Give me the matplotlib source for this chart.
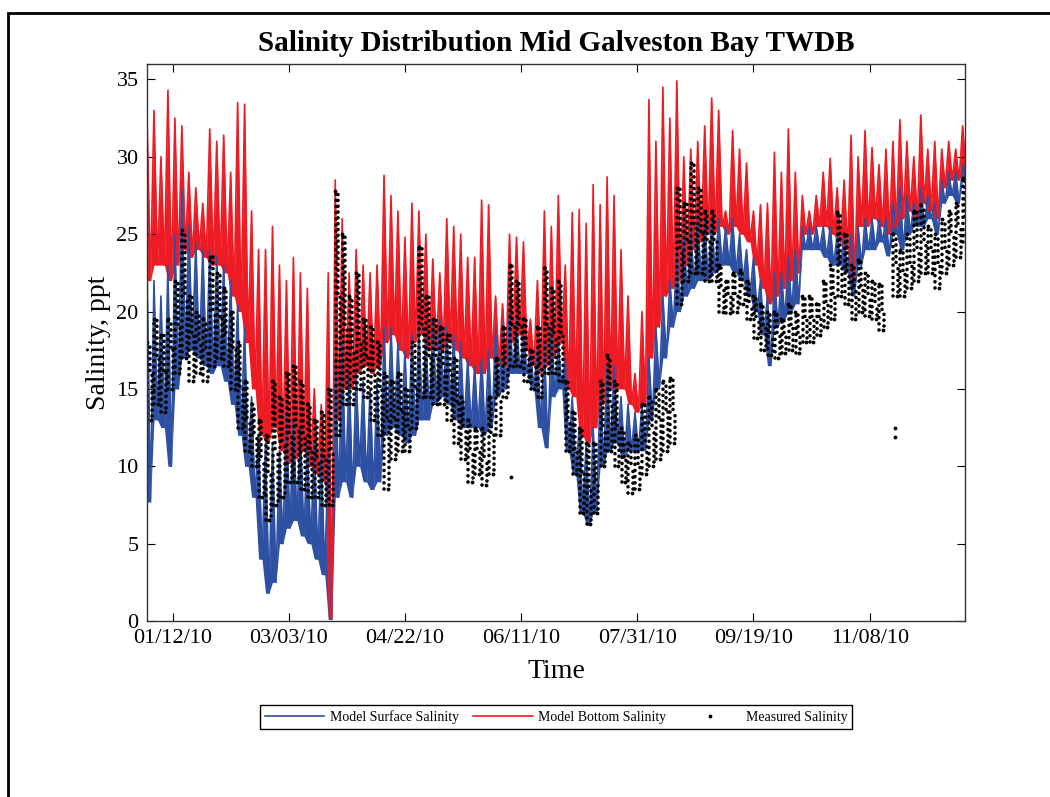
import numpy as np
import matplotlib
matplotlib.use("Agg")
import matplotlib.pyplot as plt
import matplotlib.dates as mdates
from matplotlib.patches import Rectangle
from datetime import datetime

plt.rcParams['font.family'] = ['Liberation Serif', 'DejaVu Serif']

# values read every 3 days from 01/01/10 (daily tidal high / low of each series)
start = datetime(2010, 1, 1)
step_days = 3

bottom_hi = [32.5, 33, 30, 34.3, 32.5, 32, 29, 28, 27, 31.8,
             31, 31.4, 29, 33.5, 33.4, 26.5, 24, 24, 25.5, 23,
             22, 23.5, 22.5, 21.5, 15, 14, 22.5, 28.5, 26, 22.5,
             24, 23, 22.5, 23, 28.8, 27.5, 26.5, 24.8, 27, 26.5,
             25, 23.4, 22.5, 26, 25.5, 25, 23.5, 23.5, 27.2, 26.9,
             21, 20.5, 25, 24.8, 24.5, 19.5, 22, 26.5, 25.5, 27.5,
             23, 26.4, 26.6, 25.7, 28.2, 26.9, 28.7, 27.5, 24, 21,
             16, 20, 33.7, 31, 34.5, 32.5, 34.9, 30, 30.5, 31,
             32, 33.8, 33, 26.5, 31.7, 30.5, 29.6, 26.5, 26.9, 27,
             30.3, 29, 31.8, 29, 27.5, 26.5, 27.5, 29, 29.9, 28,
             28.5, 31.4, 30, 31.7, 30.6, 29.5, 30.5, 31, 32.4, 31,
             30, 32.7, 30.5, 31, 30.5, 31, 30.5, 32]
bottom_lo = [22, 23, 23, 22, 23, 24, 23.5, 24, 23.5, 23,
             23, 22.5, 21, 20, 18, 15, 12, 11.5, 12.5, 11,
             10.2, 10.5, 11, 10, 9.5, 9, 0.2, 13, 15, 15,
             16, 16.5, 16, 16.5, 18, 18.5, 17.5, 17, 18, 18.5,
             17.5, 17.5, 17.5, 18, 17.5, 17, 16.5, 16, 16, 17,
             16.5, 16.5, 18, 18.5, 17.5, 16.5, 16, 16.5, 17, 18,
             15, 14.5, 12, 11.5, 12.5, 14, 15, 15, 15, 14,
             13.5, 14, 17, 19, 21, 21.5, 22, 23, 24, 24.5,
             25, 25, 25.5, 25, 25.5, 25, 24.5, 23, 21.5, 20.5,
             21, 21.5, 22, 22.5, 25, 25, 25.5, 25.5, 25, 24.5,
             24, 22, 25.5, 25.5, 26, 25.5, 25, 25.5, 26, 26.5,
             26, 27, 26.5, 26, 28, 28.5, 28.5, 29]
surface_hi = [23, 22, 21, 23, 25, 28, 25.5, 24.5, 24, 24,
              23.5, 23, 22, 20.5, 19, 14.5, 12, 11.5, 11.5, 11,
              13.5, 13, 12.5, 11.5, 11.5, 11, 11, 17, 18, 16,
              16, 15.5, 15, 15.5, 19, 19, 18, 17.5, 18.5, 19,
              18.5, 19.5, 19.5, 19, 18.5, 18, 17, 16.5, 17, 17.5,
              19, 19.5, 20, 19.5, 18.5, 17.5, 17.5, 18, 19, 18,
              17, 14.5, 12.5, 11.5, 12.5, 15, 16.5, 16.5, 14.5, 14,
              13.5, 14, 17, 19, 21, 22, 24, 25, 25.5, 26,
              26, 26, 26, 25.5, 26, 25, 24, 23.5, 22, 21,
              22.5, 22.5, 23.5, 24, 25.5, 25.5, 25.5, 25.5, 25.5, 25,
              25, 25, 25.5, 26, 26, 26, 26, 27, 28, 27.5,
              27, 28, 27.5, 27, 28.5, 29, 29, 29.5]
surface_lo = [7.7, 13, 12.5, 10, 15, 17, 17.5, 17, 16.5, 16,
              16.5, 15.5, 14, 12, 10, 8, 4, 1.8, 2.5, 5,
              6, 6.5, 5.5, 5, 4, 3, 0.1, 8, 9, 8,
              10, 9, 8.5, 9, 12, 12.5, 12, 11.5, 12, 13,
              13, 14, 14.5, 14, 13, 12.5, 12.5, 12.5, 12, 12.5,
              14.5, 15, 16, 16, 16, 15, 12.5, 11.2, 14.5, 15,
              11, 9.5, 7, 6.2, 7, 10, 11, 11.5, 10.5, 11,
              11, 11, 13, 15, 17, 19, 20, 21, 21.5, 22,
              22, 22.5, 23, 23, 22.5, 22, 21, 20, 18.5, 16.5,
              19, 19.5, 20, 20.5, 24, 24, 24, 23.5, 23, 23,
              22.5, 21, 23, 24, 24, 24.5, 23.6, 25, 24, 25,
              25.5, 25.5, 26, 25, 27, 27.5, 27, 28.5]

nan = np.nan
# measured readings: highest, typical and lowest value in each 3-day window
measured_hi = [18, 19.5, 18.5, 19.5, 22, 25.3, 21, 20, 19.5, 23.5,
               22.5, 21.5, 20, 18, 15.5, 14, 13, 12, 15.5, 14.5,
               16, 16.5, 15.5, 14, 13, 13.5, 15, 27.8, 25, 21,
               22.5, 19.5, 19, 18, 16, 15.5, 16, 15, 18, 24.2,
               21, 19.5, 19, 18.5, 17, 14.5, 13, 12.5, 12.5, 14.5,
               17, 19, 23, 22, 19.5, 17.5, 19, 22.8, 21.5, 22,
               15.5, 13.5, 12.5, 11.5, 11.5, 15.5, 17.2, 15.5, 12.5, 11.5,
               12, 14, 14.5, 15, 15.5, 15.7, 28, 27, 29.6, 28,
               26.5, 26.5, 23, 22, 22.5, 22.7, 22, 21, 20.5, 20,
               20, 19.5, 20.5, 20, 21, 21, 20.5, 22, 23, 26.4,
               25, 23, 23.3, 22.5, 22, 21.8, nan, 25, 24, 25,
               26.5, 26.9, 25.5, 25, 26, 26.5, 27, 28.6]
measured_mid = [16, 17, 16, 17.5, 19, 21, 18.5, 18, 17.5, 20,
                19.5, 18.5, 17.5, 15, 13, 12, 10.5, 9.5, 11, 11.5,
                12, 12.5, 12, 11, 10.5, 10.5, 11, 21, 19, 17.5,
                18, 17, 16, 15, 13, 13, 13.5, 12.5, 15, 19,
                17, 17, 16.5, 16, 14, 12.5, 11, 11, 10.5, 12,
                14.5, 16.5, 19, 19, 17, 16.5, 16.5, 19, 18.5, 18.5,
                13, 11, 9.5, 8.5, 9, 12.5, 14, 12.5, 10.5, 10,
                10, 11.5, 12.5, 13, 13.5, 13.5, 24, 24.5, 25.5, 25,
                24.5, 24.5, 21.5, 21, 21, 21.5, 20.5, 19.5, 19, 18.5,
                18.5, 18.5, 19, 18.5, 19.5, 19.5, 19.5, 20.5, 21, 23,
                22.5, 21.5, 21.5, 21, 20.5, 20, nan, 23, 22.5, 23,
                24, 24.5, 24, 23, 24, 25, 25.5, 26]
measured_lo = [13, 14, 13.5, 15, 16, 17, 15.5, 16, 15.5, 16.5,
               17, 16.5, 15, 12.5, 11, 10, 8, 6.5, 7.5, 8,
               9, 9, 8.5, 8, 8, 7.5, 7.5, 12, 14, 14,
               15, 14.5, 13, 12, 8.5, 10.5, 11, 11, 12.5, 14.5,
               14.5, 14, 14, 13, 11.5, 10.5, 9, 9.5, 8.8, 9.5,
               12, 14.5, 16.5, 16.5, 15.5, 15, 14.5, 16, 16, 15.5,
               11, 9.5, 7, 6.3, 7, 10, 11, 10, 9, 8.3,
               8.5, 9.5, 10, 10.5, 11, 11.5, 20.5, 22, 22.5, 22.5,
               22, 22, 20, 19.9, 20, 20.5, 19.5, 18.3, 17.5, 17.2,
               17, 17.3, 17.5, 17.3, 18, 18, 18.5, 19, 19.5, 21,
               20.5, 19.5, 20, 19.7, 19.5, 18.8, nan, 21, 21, 21.5,
               22, 22.5, 22.5, 21.5, 22.5, 23, 23.5, 24.5]

# a few isolated measured readings (day of year, value)
stray_days = [156.7, 322, 322]
stray_vals = [9.3, 12.5, 11.9]

tick_dates = [datetime(2010, 1, 12), datetime(2010, 3, 3), datetime(2010, 4, 22),
              datetime(2010, 6, 11), datetime(2010, 7, 31), datetime(2010, 9, 19),
              datetime(2010, 11, 8)]
x_end = datetime(2010, 12, 19)

t0 = mdates.date2num(start)
days = np.arange(len(bottom_hi)) * step_days


def zigzag(hi, lo):
    x = np.column_stack([days, days + step_days / 2]).ravel() + t0
    y = np.column_stack([hi, lo]).ravel()
    return x, y


def model(ax, hi, lo, color, label):
    x, y = zigzag(hi, lo)
    floor = np.repeat(lo, 2)
    ax.fill_between(x, y, floor, color=color, lw=0)
    ax.plot(x, y, color=color, lw=1.2, label=label)


fig = plt.figure(figsize=(10.5, 7.97), dpi=100)
ax = fig.add_axes([0.14, 0.2208, 0.779, 0.699])

model(ax, surface_hi, surface_lo, '#2e50a2', 'Model Surface Salinity')
model(ax, bottom_hi, bottom_lo, '#ed1c24', 'Model Bottom Salinity')

# measured spread in each window drawn as dotted columns
dots = dict(colors='black', lw=2.6, capstyle='round')
mlo = np.array(measured_lo)
mmid = np.array(measured_mid)
mhi = np.array(measured_hi)
ax.vlines(days + t0 + 0.2, mlo, mhi, linestyles=[(0, (0.01, 1.7))], **dots)
ax.vlines(days + t0 + 1.2, mmid, mhi, linestyles=[(0.9, (0.01, 1.6))], **dots)
ax.vlines(days + t0 + 2.2, mlo, mmid, linestyles=[(0.5, (0.01, 1.6))], **dots)
ax.plot(np.concatenate([days, days + 1.7]) + t0,
        np.concatenate([mhi, mlo]), '.', color='black', ms=3.5,
        label='Measured Salinity')
ax.plot(np.array(stray_days) + t0, stray_vals, '.', color='black', ms=3.5)

ax.set_xlim(t0, mdates.date2num(x_end))
ax.set_ylim(0, 36)
ax.set_yticks(range(0, 36, 5))
ax.set_xticks(tick_dates)
ax.xaxis.set_major_formatter(mdates.DateFormatter('%m/%d/%y'))
ax.tick_params(direction='in', length=6, width=0.8, top=True, right=True,
               labelsize=16, pad=6)
for s in ax.spines.values():
    s.set_linewidth(1.0)
    s.set_color('#333333')

ax.set_title('Salinity Distribution Mid Galveston Bay TWDB', fontsize=21,
             fontweight='bold', pad=9)
ax.set_xlabel('Time', fontsize=20, labelpad=8)
ax.set_ylabel('Salinity, ppt', fontsize=20, labelpad=4)

fig.legend(loc='center', bbox_to_anchor=(0.5295, 0.1004), ncol=3, fontsize=10,
           frameon=True, fancybox=False, edgecolor='black', framealpha=1,
           handlelength=4.3, columnspacing=1.0, borderpad=0.35,
           handletextpad=0.4)

# outer frame (only left and top edges visible in the image)
fig.add_artist(Rectangle((8 / 1050, -0.05), 1.1, 1 - 13 / 797 + 0.05,
                         transform=fig.transFigure, fill=False,
                         edgecolor='black', lw=2, clip_on=False))

fig.savefig('out.png', dpi=100)
